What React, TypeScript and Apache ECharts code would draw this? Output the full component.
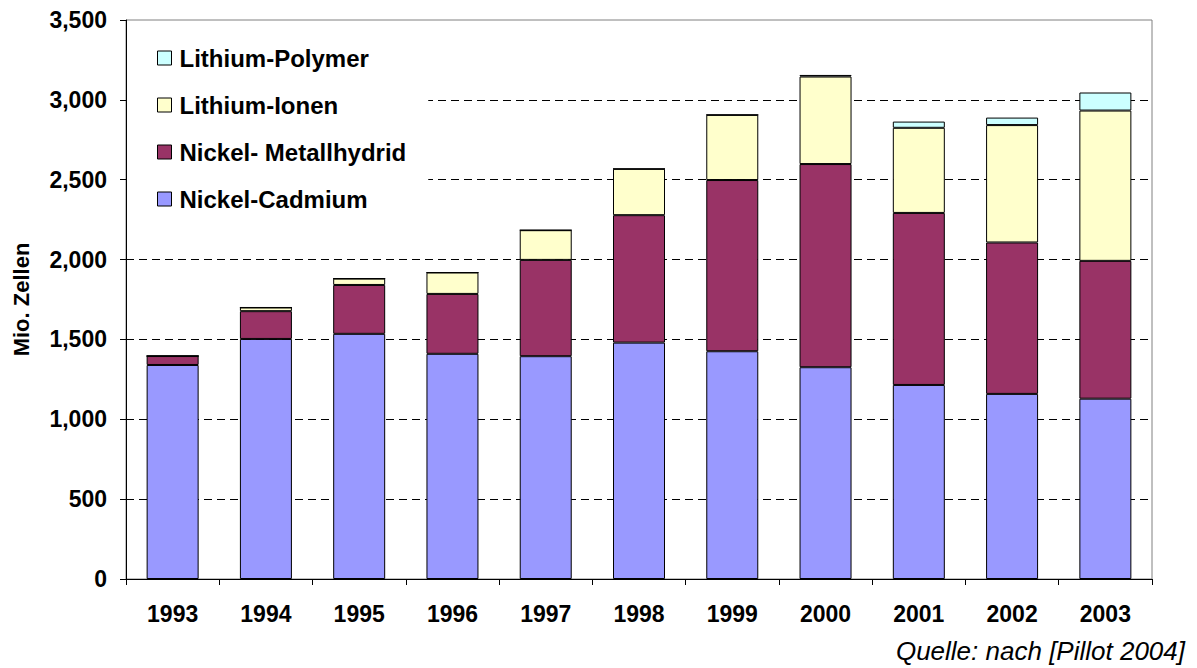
import React, { useEffect, useRef } from "react";
import * as echarts from "echarts";

const years = ["1993", "1994", "1995", "1996", "1997", "1998", "1999", "2000", "2001", "2002", "2003"];
const nickelCadmium = [1340, 1503, 1535, 1410, 1395, 1480, 1426, 1326, 1215, 1159, 1129];
const nickelMetallhydrid = [56, 174, 306, 375, 603, 798, 1072, 1272, 1077, 948, 863];
const lithiumIonen = [0, 23, 40, 134, 186, 290, 408, 548, 533, 735, 941];
const lithiumPolymer = [0, 0, 0, 0, 0, 0, 0, 10, 39, 47, 113];

const seriesNames = ["Nickel-Cadmium", "Nickel- Metallhydrid", "Lithium-Ionen", "Lithium-Polymer"];
const seriesColors = ["#9999FF", "#993366", "#FFFFCC", "#CCFFFF"];
const legendOrder = ["Lithium-Polymer", "Lithium-Ionen", "Nickel- Metallhydrid", "Nickel-Cadmium"];
const yTicks = { min: 0, max: 3500, interval: 500 };

const FONT = "'Liberation Sans', Arial, Helvetica, sans-serif";

export default function App() {
  const ref = useRef<HTMLDivElement>(null);
  useEffect(() => {
    if (!ref.current) return;
    const chart = echarts.init(ref.current, null, { renderer: "svg" });
    const data = [nickelCadmium, nickelMetallhydrid, lithiumIonen, lithiumPolymer];
    chart.setOption({
      animation: false,
      backgroundColor: "#ffffff",
      textStyle: { fontFamily: FONT },
      grid: {
        left: 126,
        right: 45,
        top: 20,
        bottom: 89,
        show: true,
        borderColor: "#808080",
        borderWidth: 1,
        backgroundColor: "transparent",
      },
      legend: {
        orient: "vertical",
        left: 127,
        top: 26,
        padding: [20, 22, 20, 30],
        backgroundColor: "#ffffff",
        data: legendOrder,
        icon: "rect",
        itemWidth: 14,
        itemHeight: 14,
        itemGap: 23,
        itemStyle: { borderColor: "#000", borderWidth: 1 },
        textStyle: {
          fontFamily: FONT,
          fontWeight: "bold",
          fontSize: 24,
          lineHeight: 24,
          color: "#000",
          padding: [0, 0, 0, 3],
        },
        selectedMode: false,
      },
      xAxis: {
        type: "category",
        data: years,
        boundaryGap: true,
        axisLine: { show: true, lineStyle: { color: "#000", width: 1 } },
        axisTick: { show: true, length: 6, inside: false, lineStyle: { color: "#000" } },
        axisLabel: {
          fontFamily: FONT,
          fontWeight: "bold",
          fontSize: 23,
          color: "#000",
          margin: 23,
        },
      },
      yAxis: {
        type: "value",
        min: yTicks.min,
        max: yTicks.max,
        interval: yTicks.interval,
        name: "Mio. Zellen",
        nameLocation: "middle",
        nameGap: 94,
        nameRotate: 90,
        nameTextStyle: { fontFamily: FONT, fontWeight: "bold", fontSize: 22, color: "#000" },
        axisLine: { show: true, lineStyle: { color: "#000", width: 1 } },
        axisTick: { show: true, length: 6, inside: false, lineStyle: { color: "#000" } },
        axisLabel: {
          fontFamily: FONT,
          fontWeight: "bold",
          fontSize: 23,
          color: "#000",
          margin: 19,
          formatter: (v: number) => v.toLocaleString("en-US"),
        },
        splitLine: {
          show: true,
          showMinLine: false,
          showMaxLine: false,
          lineStyle: { color: "#000", type: [8, 5], width: 1 },
        },
      },
      series: seriesNames.map((name, i) => ({
        name,
        type: "bar",
        stack: "total",
        barWidth: 52,
        data: data[i],
        itemStyle: { color: seriesColors[i], borderColor: "#000", borderWidth: 1 },
        emphasis: { disabled: true },
      })),
      graphic: [
        {
          type: "text",
          right: 12,
          top: 638,
          style: {
            text: "Quelle: nach [Pillot 2004]",
            fontFamily: FONT,
            fontStyle: "italic",
            fontSize: 26,
            fill: "#000",
          },
        },
      ],
    });
    return () => chart.dispose();
  }, []);
  return <div ref={ref} style={{ width: 1197, height: 668, position: "absolute", left: 0, top: 0 }} />;
}
